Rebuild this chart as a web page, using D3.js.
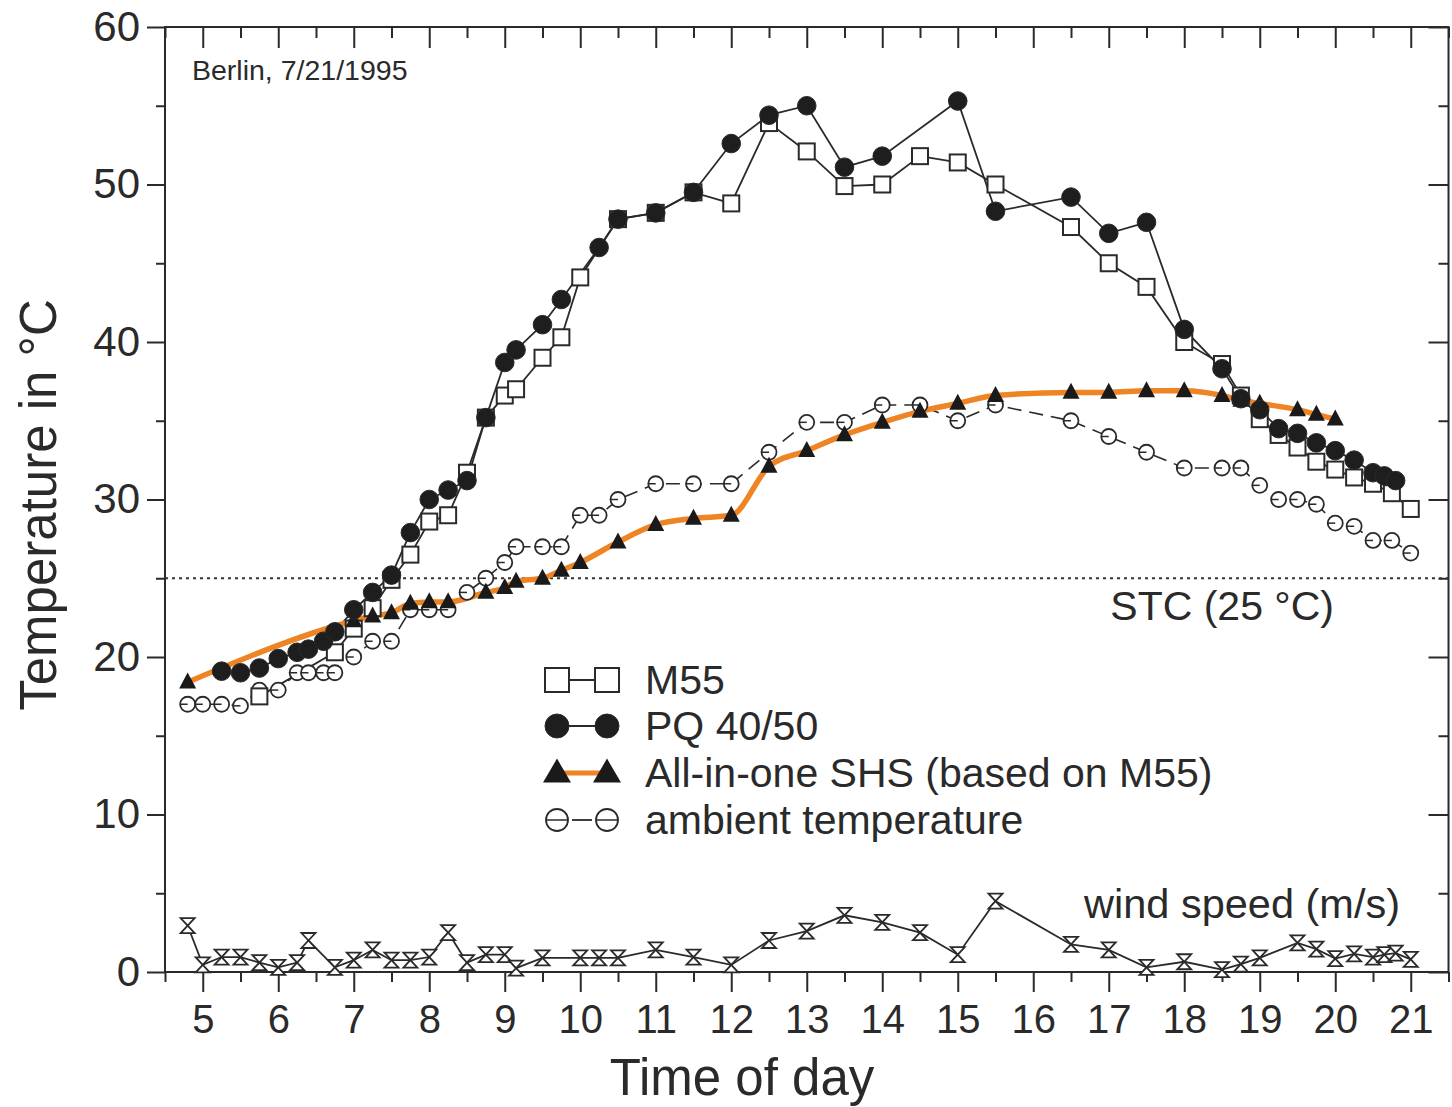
<!DOCTYPE html>
<html><head><meta charset="utf-8">
<script src="https://cdn.jsdelivr.net/npm/d3@7/dist/d3.min.js"></script>
<style>body{margin:0;background:#fff}svg{display:block}</style>
</head><body>
<svg id="c" width="1452" height="1107"></svg>
<script>
// ---- data ----
const m55Time = [5.75,6.75,7.0,7.25,7.5,7.75,8.0,8.25,8.5,8.75,9.0,9.15,9.5,9.75,10.0,10.5,11.0,11.5,12.0,12.5,13.0,13.5,14.0,14.5,15.0,15.5,16.5,17.0,17.5,18.0,18.5,18.75,19.0,19.25,19.5,19.75,20.0,20.25,20.5,20.75,21.0];
const m55Temp = [17.5,20.3,21.8,23.1,24.9,26.5,28.6,29.0,31.7,35.2,36.6,37.0,39.0,40.3,44.1,47.8,48.2,49.5,48.8,53.9,52.1,49.9,50.0,51.8,51.4,50.0,47.3,45.0,43.5,40.0,38.6,36.6,35.1,34.1,33.3,32.4,31.9,31.4,31.0,30.4,29.4];

const pqTime = [5.25,5.5,5.75,6.0,6.25,6.4,6.6,6.75,7.0,7.25,7.5,7.75,8.0,8.25,8.5,8.75,9.0,9.15,9.5,9.75,10.25,10.5,11.0,11.5,12.0,12.5,13.0,13.5,14.0,15.0,15.5,16.5,17.0,17.5,18.0,18.5,18.75,19.0,19.25,19.5,19.75,20.0,20.25,20.5,20.65,20.8];
const pqTemp = [19.1,19.0,19.3,19.9,20.3,20.5,21.0,21.6,23.0,24.1,25.2,27.9,30.0,30.6,31.2,35.2,38.7,39.5,41.1,42.7,46.0,47.8,48.2,49.5,52.6,54.4,55.0,51.1,51.8,55.3,48.3,49.2,46.9,47.6,40.8,38.3,36.4,35.7,34.5,34.2,33.6,33.1,32.5,31.7,31.5,31.2];

const shsTime = [4.8,7.0,7.25,7.5,7.75,8.0,8.25,8.75,9.0,9.15,9.5,9.75,10.0,10.5,11.0,11.5,12.0,12.5,13.0,13.5,14.0,14.5,15.0,15.5,16.5,17.0,17.5,18.0,18.5,18.75,19.0,19.5,19.75,20.0];
const shsTemp = [18.4,22.3,22.6,22.8,23.4,23.5,23.5,24.1,24.4,24.8,25.0,25.5,26.0,27.3,28.4,28.8,29.0,32.1,33.1,34.1,34.9,35.6,36.1,36.6,36.8,36.8,36.9,36.9,36.6,36.3,36.1,35.7,35.4,35.1];

const ambTime = [4.8,5.0,5.25,5.5,5.75,6.0,6.25,6.4,6.6,6.75,7.0,7.25,7.5,7.75,8.0,8.25,8.5,8.75,9.0,9.15,9.5,9.75,10.0,10.25,10.5,11.0,11.5,12.0,12.5,13.0,13.5,14.0,14.5,15.0,15.5,16.5,17.0,17.5,18.0,18.5,18.75,19.0,19.25,19.5,19.75,20.0,20.25,20.5,20.75,21.0];
const ambTemp = [17.0,17.0,17.0,16.9,17.9,17.9,19.0,19.0,19.0,19.0,20.0,21.0,21.0,23.0,23.0,23.0,24.1,25.0,26.0,27.0,27.0,27.0,29.0,29.0,30.0,31.0,31.0,31.0,33.0,34.9,34.9,36.0,36.0,35.0,36.0,35.0,34.0,33.0,32.0,32.0,32.0,30.9,30.0,30.0,29.7,28.5,28.3,27.4,27.4,26.6];

const windTime = [4.8,5.0,5.25,5.5,5.75,6.0,6.25,6.4,6.75,7.0,7.25,7.5,7.75,8.0,8.25,8.5,8.75,9.0,9.15,9.5,10.0,10.25,10.5,11.0,11.5,12.0,12.5,13.0,13.5,14.0,14.5,15.0,15.5,16.5,17.0,17.5,18.0,18.5,18.75,19.0,19.5,19.75,20.0,20.25,20.5,20.65,20.8,21.0];
const windSpeed = [2.95,0.45,0.95,0.95,0.6,0.3,0.6,2.0,0.3,0.75,1.4,0.75,0.75,0.95,2.5,0.6,1.1,1.1,0.25,0.9,0.9,0.9,0.9,1.4,0.95,0.45,2.0,2.6,3.6,3.15,2.5,1.1,4.5,1.75,1.4,0.3,0.65,0.15,0.5,0.9,1.85,1.45,0.85,1.15,0.95,1.1,1.2,0.8];

const hourTicks = [5,6,7,8,9,10,11,12,13,14,15,16,17,18,19,20,21];
const halfTicks = [4.5,5.5,6.5,7.5,8.5,9.5,10.5,11.5,12.5,13.5,14.5,15.5,16.5,17.5,18.5,19.5,20.5,21.5];
const tempTicks = [0,10,20,30,40,50,60];
const tempMinor = [5,15,25,35,45,55];
const stcValue = 25;

const legendLabels = ["M55","PQ 40/50","All-in-one SHS (based on M55)","ambient temperature"];

// ---- drawing ----
const FONT = "'Liberation Sans', Arial, Helvetica, sans-serif";
const INK = "#2a2a2a";
const ORANGE = "#ee8424";
const svg = d3.select('#c').style('font-family', FONT);
const L = 165, R = 1448.5, T = 27, B = 972;
const x = d3.scaleLinear().domain([4.5, 21.5]).range([L, R]);
const y = d3.scaleLinear().domain([0, 60]).range([B, T]);

function styleAxis(g, fs) {
  g.select('.domain').remove();
  g.selectAll('line').attr('stroke', INK).attr('stroke-width', 2);
  g.selectAll('text').attr('fill', INK).style('font-size', fs + 'px').style('font-family', FONT);
}

// bottom axis
svg.append('g').attr('transform', `translate(0,${B})`)
  .call(d3.axisBottom(x).tickValues(hourTicks).tickSize(20).tickPadding(13).tickFormat(d3.format('d')))
  .call(g => styleAxis(g, 40));
svg.append('g').attr('transform', `translate(0,${B})`)
  .call(d3.axisBottom(x).tickValues(halfTicks).tickSize(10).tickFormat(''))
  .call(g => styleAxis(g, 10));
// top axis (inward)
svg.append('g').attr('transform', `translate(0,${T})`)
  .call(d3.axisTop(x).tickValues(hourTicks).tickSize(-21).tickFormat(''))
  .call(g => styleAxis(g, 10));
svg.append('g').attr('transform', `translate(0,${T})`)
  .call(d3.axisTop(x).tickValues(halfTicks).tickSize(-11).tickFormat(''))
  .call(g => styleAxis(g, 10));
// left axis
svg.append('g').attr('transform', `translate(${L},0)`)
  .call(d3.axisLeft(y).tickValues(tempTicks).tickSize(18).tickPadding(7).tickFormat(d3.format('d')))
  .call(g => styleAxis(g, 42));
svg.append('g').attr('transform', `translate(${L},0)`)
  .call(d3.axisLeft(y).tickValues(tempMinor).tickSize(9).tickFormat(''))
  .call(g => styleAxis(g, 10));
// right axis (inward)
svg.append('g').attr('transform', `translate(${R},0)`)
  .call(d3.axisRight(y).tickValues(tempTicks).tickSize(-20).tickFormat(''))
  .call(g => styleAxis(g, 10));
svg.append('g').attr('transform', `translate(${R},0)`)
  .call(d3.axisRight(y).tickValues(tempMinor).tickSize(-10).tickFormat(''))
  .call(g => styleAxis(g, 10));

// frame
svg.append('rect').attr('x', L).attr('y', T).attr('width', R - L).attr('height', B - T)
  .attr('fill', 'none').attr('stroke', INK).attr('stroke-width', 2);

// STC line
svg.append('line').attr('x1', L).attr('x2', R).attr('y1', y(stcValue)).attr('y2', y(stcValue))
  .attr('stroke', '#333').attr('stroke-width', 2.2).attr('stroke-dasharray', '3,4');
svg.append('text').attr('x', 1334).attr('y', y(stcValue) + 42).attr('text-anchor', 'end')
  .attr('fill', INK).style('font-size', '41px').text('STC (25 °C)');

svg.append('text').attr('x', 192).attr('y', 80).attr('fill', INK).style('font-size', '28.5px').text('Berlin, 7/21/1995');

// axis titles
svg.append('text').attr('transform', `translate(56,505) rotate(-90)`).attr('text-anchor', 'middle')
  .attr('fill', INK).style('font-size', '51px').text('Temperature in °C');
svg.append('text').attr('x', 742).attr('y', 1095).attr('text-anchor', 'middle')
  .attr('fill', INK).style('font-size', '51px').text('Time of day');

const zip = (a, b) => a.map((t, i) => [t, b[i]]);
const line = d3.line().x(d => x(d[0])).y(d => y(d[1]));
const smooth = d3.line().x(d => x(d[0])).y(d => y(d[1])).curve(d3.curveMonotoneX);

const amb = zip(ambTime, ambTemp), m55 = zip(m55Time, m55Temp), pq = zip(pqTime, pqTemp),
      shs = zip(shsTime, shsTemp), wind = zip(windTime, windSpeed);

// lines
svg.append('path').datum(amb).attr('d', line).attr('fill', 'none').attr('stroke', INK)
  .attr('stroke-width', 1.6).attr('stroke-dasharray', '14,8');
svg.append('path').datum(wind).attr('d', line).attr('fill', 'none').attr('stroke', INK).attr('stroke-width', 1.8);
svg.append('path').datum(m55).attr('d', line).attr('fill', 'none').attr('stroke', INK).attr('stroke-width', 1.8);
svg.append('path').datum(pq).attr('d', line).attr('fill', 'none').attr('stroke', INK).attr('stroke-width', 1.8);
svg.append('path').datum(shs).attr('d', smooth).attr('fill', 'none').attr('stroke', ORANGE).attr('stroke-width', 5.5);

// symbol helpers
function ambSym(g, r, full) {
  g.append('circle').attr('r', r).attr('fill', '#fff').attr('stroke', INK).attr('stroke-width', 1.8);
  g.append('line').attr('x1', -r).attr('x2', full ? r : 0).attr('y1', 0).attr('y2', 0).attr('stroke', INK).attr('stroke-width', 1.5);
}
function sqSym(g, s) {
  g.append('rect').attr('x', -s / 2).attr('y', -s / 2).attr('width', s).attr('height', s)
    .attr('fill', '#fff').attr('stroke', INK).attr('stroke-width', 2);
}
function circSym(g, r) {
  g.append('circle').attr('r', r).attr('fill', '#1e1e1e').attr('stroke', INK).attr('stroke-width', 1);
}
function triSym(g, w, h) {
  g.append('path').attr('d', `M0,${-h * 0.6}L${w / 2},${h * 0.4}L${-w / 2},${h * 0.4}Z`).attr('fill', '#1a1a1a');
}
function hourglass(g, w, h) {
  g.append('path').attr('d', `M${-w / 2},${-h / 2}H${w / 2}L${-w / 2},${h / 2}H${w / 2}Z`)
    .attr('fill', '#fff').attr('stroke', INK).attr('stroke-width', 1.8).attr('stroke-linejoin', 'miter');
}

svg.append('g').selectAll('g').data(wind).join('g')
  .attr('transform', d => `translate(${x(d[0])},${y(d[1])})`).each(function () { hourglass(d3.select(this), 14, 15); });
svg.append('g').selectAll('g').data(amb).join('g')
  .attr('transform', d => `translate(${x(d[0])},${y(d[1])})`).each(function () { ambSym(d3.select(this), 7.5, false); });
svg.append('g').selectAll('g').data(m55).join('g')
  .attr('transform', d => `translate(${x(d[0])},${y(d[1])})`).each(function () { sqSym(d3.select(this), 16); });
svg.append('g').selectAll('g').data(shs).join('g')
  .attr('transform', d => `translate(${x(d[0])},${y(d[1])})`).each(function () { triSym(d3.select(this), 17, 16); });
svg.append('g').selectAll('g').data(pq).join('g')
  .attr('transform', d => `translate(${x(d[0])},${y(d[1])})`).each(function () { circSym(d3.select(this), 9.3); });

svg.append('text').attr('x', 1400).attr('y', 918).attr('text-anchor', 'end')
  .attr('fill', INK).style('font-size', '41.5px').text('wind speed (m/s)');

// legend
const legY = [680, 726, 773, 820];
const s1 = 557, s2 = 607, tx = 645;
const lg = svg.append('g');
legendLabels.forEach((lab, i) => {
  const yy = legY[i];
  const row = lg.append('g');
  if (i === 2) {
    row.append('line').attr('x1', s1).attr('x2', s2).attr('y1', yy).attr('y2', yy).attr('stroke', ORANGE).attr('stroke-width', 5);
  } else if (i === 3) {
    row.append('line').attr('x1', s1 + 15).attr('x2', s2 - 15).attr('y1', yy).attr('y2', yy).attr('stroke', INK).attr('stroke-width', 1.8);
  } else {
    row.append('line').attr('x1', s1).attr('x2', s2).attr('y1', yy).attr('y2', yy).attr('stroke', INK).attr('stroke-width', 1.8);
  }
  [s1, s2].forEach(sx => {
    const g = row.append('g').attr('transform', `translate(${sx},${yy})`);
    if (i === 0) sqSym(g, 24);
    else if (i === 1) circSym(g, 12);
    else if (i === 2) triSym(g, 28, 24);
    else ambSym(g, 11, true);
  });
  row.append('text').attr('x', tx).attr('y', yy + 14).attr('fill', INK).style('font-size', '41px').text(lab);
});
</script>
</body></html>
